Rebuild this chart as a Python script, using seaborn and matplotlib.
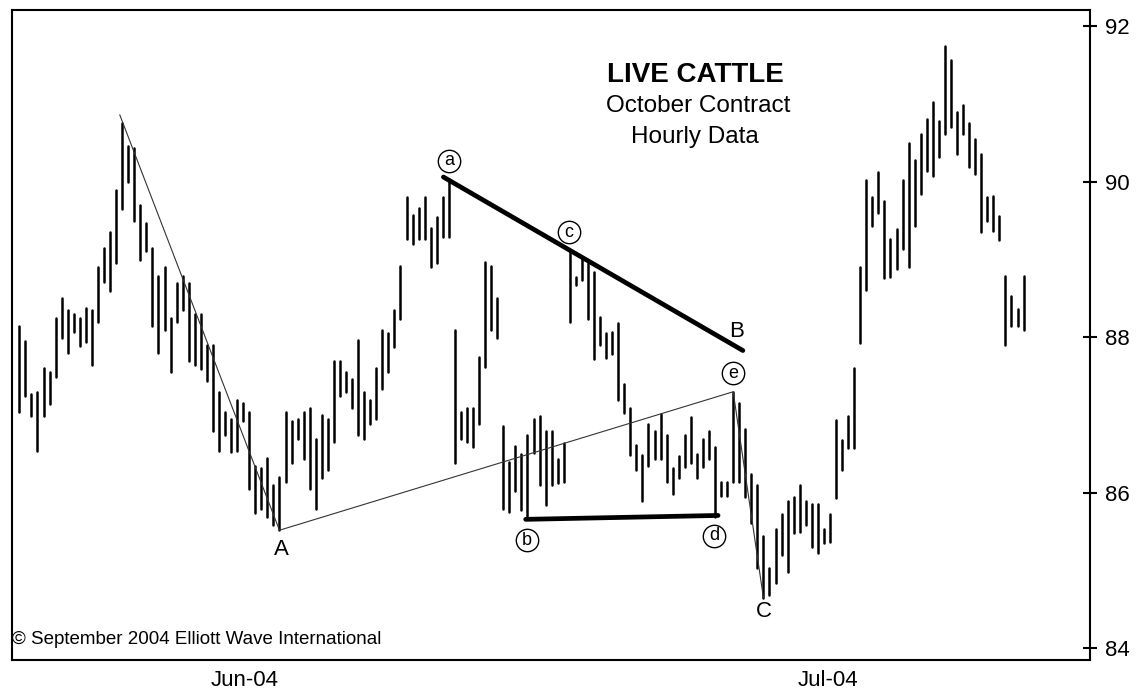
import matplotlib
matplotlib.use("Agg")
import matplotlib.pyplot as plt
import seaborn as sns
import pandas as pd
import numpy as np

# ---- data: hourly high/low bars ----
highs = [88.15, 87.95, 87.27, 87.30, 87.61, 87.55, 88.25, 88.51, 88.35, 88.30,
         88.25, 88.38, 88.35, 88.90, 89.15, 89.35, 89.89, 90.76, 90.46, 90.43,
         89.70, 89.47, 89.15, 88.79, 88.90, 88.25, 88.70, 88.79, 88.70, 88.30,
         88.30, 87.90, 87.90, 87.30, 87.04, 86.95, 87.20, 87.15, 87.04, 86.35,
         86.32, 86.45, 86.10, 86.20, 87.04, 86.92, 86.95, 87.04, 87.09, 86.69,
         87.00, 86.95, 87.69, 87.69, 87.55, 87.47, 87.97, 87.30, 87.20, 87.60,
         88.09, 88.06, 88.35, 88.91, 89.80, 89.57, 89.66, 89.80, 89.40, 89.55,
         89.80, 90.04, 88.09, 87.04, 87.09, 87.09, 87.75, 88.97, 88.91, 88.50,
         86.86, 86.40, 86.60, 86.50, 86.74, 86.95, 86.99, 86.80, 86.80, 86.44,
         86.64, 89.12, 88.78, 89.02, 88.95, 88.84, 88.26, 88.05, 88.07, 88.18,
         87.40, 87.09, 86.62, 86.49, 86.89, 86.80, 87.02, 86.74, 86.32, 86.47,
         86.74, 86.97, 86.50, 86.69, 86.80, 86.59, 86.14, 86.14, 87.30, 87.16,
         86.82, 86.24, 86.10, 85.45, 85.03, 85.54, 85.73, 85.90, 85.95, 86.10,
         85.90, 85.86, 85.86, 85.54, 85.73, 86.94, 86.68, 86.99, 87.60, 88.90,
         90.02, 89.80, 90.12, 89.75, 89.26, 89.39, 90.02, 90.50, 90.28, 90.61,
         90.80, 91.02, 90.78, 91.74, 91.56, 90.90, 90.98, 90.75, 90.55, 90.36,
         89.80, 89.82, 89.56, 88.79, 88.53, 88.37, 88.79]
lows = [87.04, 87.25, 86.99, 86.54, 86.99, 87.14, 87.49, 87.99, 87.80, 88.07,
        87.89, 87.94, 87.64, 88.20, 88.71, 88.60, 88.95, 89.65, 90.00, 89.49,
        88.99, 89.11, 88.14, 87.80, 88.09, 87.55, 88.20, 88.35, 87.70, 87.64,
        87.59, 87.44, 86.80, 86.54, 86.74, 86.52, 86.54, 86.92, 86.05, 85.74,
        85.79, 85.69, 85.59, 85.52, 86.14, 86.38, 86.69, 86.44, 86.05, 85.79,
        86.19, 86.29, 86.65, 87.25, 87.30, 87.09, 86.74, 86.69, 86.89, 86.95,
        87.34, 87.55, 87.88, 88.24, 89.26, 89.20, 89.26, 89.26, 88.90, 88.96,
        89.29, 89.29, 86.39, 86.69, 86.65, 86.59, 86.89, 87.62, 88.09, 87.99,
        85.79, 85.75, 86.03, 85.78, 85.66, 86.51, 86.10, 85.84, 86.10, 86.13,
        86.14, 88.20, 88.67, 88.74, 88.24, 87.72, 87.90, 87.74, 87.79, 87.19,
        87.03, 86.49, 86.29, 85.89, 86.34, 86.43, 86.44, 86.14, 85.99, 86.19,
        86.33, 86.38, 86.19, 86.33, 86.43, 85.69, 85.96, 85.96, 86.14, 86.14,
        85.95, 85.61, 85.03, 84.65, 84.69, 84.84, 85.20, 84.98, 85.49, 85.50,
        85.59, 85.30, 85.23, 85.35, 85.37, 85.93, 86.29, 86.58, 86.58, 87.93,
        88.61, 89.43, 89.60, 88.76, 88.78, 88.88, 89.14, 88.90, 89.43, 89.84,
        90.14, 90.07, 90.32, 90.61, 90.70, 90.35, 90.61, 90.19, 90.10, 89.35,
        89.49, 89.37, 89.25, 87.90, 88.14, 88.14, 88.09]

# Elliott wave lines (bar index, price)
wave_x = [16.6, 43.0, 118.0, 123.0]
wave_y = [90.86, 85.52, 87.30, 84.65]
upper_x = [70.1, 119.6]
upper_y = [90.06, 87.83]
lower_x = [83.7, 115.5]
lower_y = [85.66, 85.71]

circle_labels = ["a", "c", "e", "b", "d"]
circle_x = [71.0, 90.9, 118.0, 83.9, 114.8]
circle_y = [90.27, 89.35, 87.54, 85.39, 85.45]

point_labels = ["A", "B", "C"]
point_x = [43.3, 118.5, 123.1]
point_y = [85.27, 88.08, 84.47]

month_labels = ["Jun-04", "Jul-04"]
month_label_pos = [37.3, 133.7]
month_tick_pos = [-0.7, 84.4]
yticks = [84, 86, 88, 90, 92]

# ---- build long table for seaborn ----
n = len(highs)
idx = np.arange(n)
df = pd.DataFrame({
    "idx": np.concatenate([idx, idx]),
    "price": np.concatenate([lows, highs]),
    "bar": np.concatenate([idx, idx]),
})

sns.set_style("white")
plt.rcParams["font.family"] = ["Liberation Sans", "DejaVu Sans"]
plt.rcParams["text.color"] = "black"
plt.rcParams["xtick.color"] = "black"
plt.rcParams["ytick.color"] = "black"
plt.rcParams["xtick.labelcolor"] = "black"
plt.rcParams["ytick.labelcolor"] = "black"

fig = plt.figure(figsize=(11.48, 6.98), dpi=100)
ax = fig.add_axes([12 / 1148, 1 - 660 / 698, (1090 - 12) / 1148, (660 - 10) / 698])

sns.lineplot(data=df, x="idx", y="price", units="bar", estimator=None,
             color="black", lw=1.8, legend=False, ax=ax, sort=False)

wave = pd.DataFrame({"x": wave_x, "y": wave_y})
sns.lineplot(data=wave, x="x", y="y", sort=False, estimator=None,
             color="#333333", lw=0.8, ax=ax)
sns.lineplot(data=pd.DataFrame({"x": upper_x, "y": upper_y}), x="x", y="y",
             sort=False, estimator=None, color="black", lw=3.4, ax=ax)
sns.lineplot(data=pd.DataFrame({"x": lower_x, "y": lower_y}), x="x", y="y",
             sort=False, estimator=None, color="black", lw=3.4, ax=ax)

for lab, x, y in zip(circle_labels, circle_x, circle_y):
    ax.scatter([x], [y], s=260, facecolor="white", edgecolor="black",
               linewidth=1.0, zorder=5)
    ax.text(x, y, lab, ha="center", va="center", fontsize=13, zorder=6,
            color="black")

for lab, x, y in zip(point_labels, point_x, point_y):
    ax.text(x, y, lab, ha="center", va="center", fontsize=16, zorder=6,
            color="black")

ax.set_xlim(-1.21, 176.98)
ax.set_ylim(83.852, 92.207)

ax.yaxis.tick_right()
ax.set_yticks(yticks)
ax.set_yticklabels([str(v) for v in yticks], fontsize=16)
ax.tick_params(axis="y", direction="inout", length=10, width=1.5, pad=6,
               right=True, left=False)

ax.set_xticks(month_tick_pos)
ax.set_xticklabels(["", ""])
ax.set_xticks(month_label_pos, minor=True)
ax.set_xticklabels(month_labels, minor=True, fontsize=16)
ax.tick_params(axis="x", which="major", direction="inout", length=12, width=1.5)
ax.tick_params(axis="x", which="minor", length=0, pad=7)

ax.set_xlabel("")
ax.set_ylabel("")
for sp in ax.spines.values():
    sp.set_visible(True)
    sp.set_color("black")
    sp.set_linewidth(1.5)

fig.text(695 / 1148, 1 - 75 / 698, "LIVE CATTLE", ha="center", va="center",
         fontsize=20, fontweight="bold", color="black")
fig.text(698 / 1148, 1 - 106 / 698, "October Contract", ha="center", va="center",
         fontsize=17.5, color="black")
fig.text(695 / 1148, 1 - 137 / 698, "Hourly Data", ha="center", va="center",
         fontsize=17.5, color="black")
fig.text(12 / 1148, 1 - 640 / 698, "\u00a9 September 2004 Elliott Wave International",
         ha="left", va="center", fontsize=13.5, color="black")

fig.savefig("out.png", dpi=100)
